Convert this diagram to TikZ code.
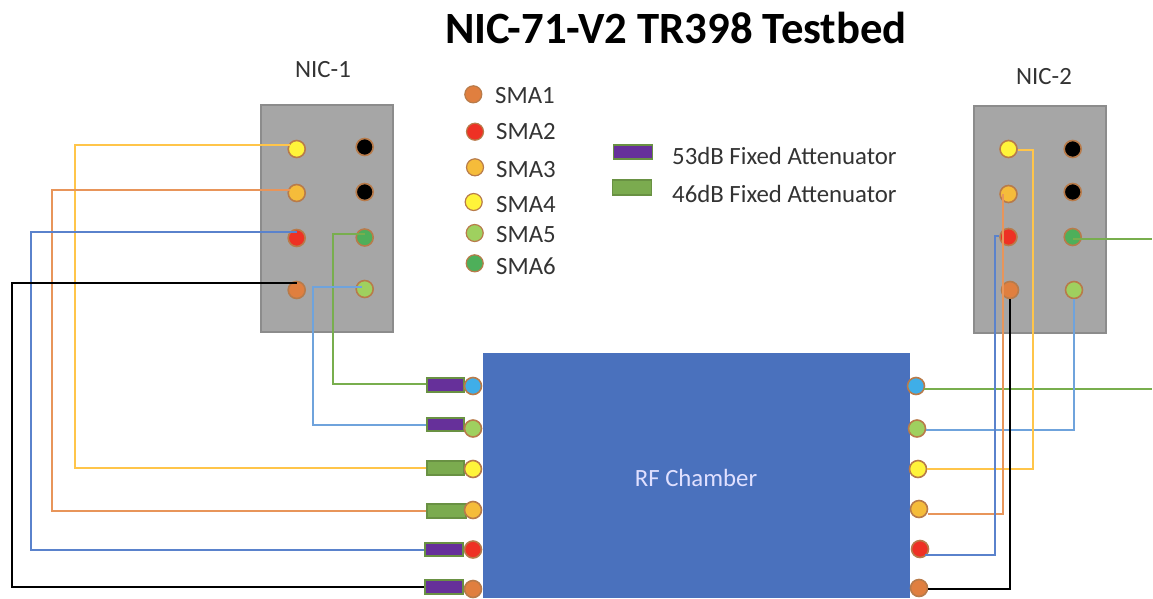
\documentclass[tikz,border=0pt]{standalone}
\usepackage{fontspec}
\setmainfont{Carlito}
\definecolor{cA}{HTML}{E07F3F}
\definecolor{cB}{HTML}{EE3124}
\definecolor{cC}{HTML}{F5BC3A}
\definecolor{cD}{HTML}{FFF43A}
\definecolor{cE}{HTML}{9FD05F}
\definecolor{cF}{HTML}{4EAF5A}
\definecolor{cS}{HTML}{3FAEE8}
\definecolor{rimc}{HTML}{B87B4A}
\definecolor{wyellow}{HTML}{FFC54A}
\definecolor{worange}{HTML}{E8955A}
\definecolor{wblue}{HTML}{5A82CC}
\definecolor{wlblue}{HTML}{6FA3DC}
\definecolor{wgreen}{HTML}{78AE4E}
\definecolor{attp}{HTML}{66309A}
\definecolor{attg}{HTML}{7BAB4F}
\definecolor{chamberc}{HTML}{4A71BD}
\tikzset{
  x=1pt,y=-1pt,
  port/.style={circle,draw=rimc,line width=1.6pt,minimum size=17pt,inner sep=0pt,fill=#1},
  lport/.style={circle,draw=rimc,line width=1.2pt,minimum size=17pt,inner sep=0pt,fill=#1},
  nicbox/.style={rectangle,draw=black!45,line width=1.2pt,fill=black!35,minimum width=132pt,minimum height=227pt,inner sep=0pt},
  atten/.style={rectangle,draw=attg!85!black,line width=1.2pt,fill=#1,inner sep=0pt},
  wire/.style={draw=#1,line width=2pt},
  label/.style={font=\fontsize{24.8}{28}\selectfont,text=black!80,anchor=west,inner sep=0pt},
  caption/.style={font=\fontsize{24.8}{28}\selectfont,text=black!80,inner sep=0pt},
}
\begin{document}
\begin{tikzpicture}
\useasboundingbox (0,0) rectangle (1153,598);
\node[font=\fontsize{44.7}{48}\bfseries,inner sep=0pt] (title) at (676,28) {NIC-71-V2 TR398 Testbed};
\node[nicbox] (nicA) at (327,218.5) {};
\node[nicbox] (nicB) at (1040,219.5) {};
\node[caption] (nicAl) at (323,70) {NIC-1};
\node[caption] (nicBl) at (1044,77) {NIC-2};
\node[inner sep=0pt] (edgeA) at (1153,239) {};
\node[inner sep=0pt] (edgeB) at (1153,389) {};
% chamber
\fill[chamberc] (483,353) rectangle (910,598);
\node[caption,text=white!88!blue] (rf) at (696,478) {RF Chamber};
% NIC-1 ports
\node[port=cD] (a1) at (296.7,149) {};
\node[port=cC] (a2) at (296.7,193) {};
\node[port=cB] (a3) at (296.7,238) {};
\node[port=cA] (a4) at (296.7,290) {};
\node[port=black] (a5) at (364.7,147) {};
\node[port=black] (a6) at (364.7,192) {};
\node[port=cF] (a7) at (364.7,237.5) {};
\node[port=cE] (a8) at (364.7,289) {};
% NIC-2 ports
\node[port=cD] (b1) at (1008.5,149) {};
\node[port=cC] (b2) at (1008.5,194) {};
\node[port=cB] (b3) at (1008.5,237) {};
\node[port=cA] (b4) at (1010,290) {};
\node[port=black] (b5) at (1072.7,149) {};
\node[port=black] (b6) at (1072.7,192) {};
\node[port=cF] (b7) at (1072.7,237) {};
\node[port=cE] (b8) at (1074,290) {};
% chamber right ports
\node[port=cS] (r1) at (916,386) {};
\node[port=cE] (r2) at (917,428.5) {};
\node[port=cD] (r3) at (918,469) {};
\node[port=cC] (r4) at (919,509) {};
\node[port=cB] (r5) at (920,549) {};
\node[port=cA] (r6) at (919,588) {};
% bends
\coordinate (k1) at (75,300);
\coordinate (k2) at (52,300);
\coordinate (k3) at (31,300);
\coordinate (k4) at (12,300);
\coordinate (k5) at (332.7,300);
\coordinate (k6) at (313.3,340);
\coordinate (m1) at (1074,360);
\coordinate (m2) at (1032.7,300);
\coordinate (m3) at (1003,360);
\coordinate (m4) at (995,400);
\coordinate (m5) at (1010,450);
% wires, left side
\node[atten=attp,minimum width=37pt,minimum height=14pt] (t1) at (445.5,385) {};
\node[atten=attp,minimum width=37pt,minimum height=13pt] (t2) at (445.5,424.5) {};
\node[atten=attg,minimum width=37pt,minimum height=14pt] (t3) at (445.5,468) {};
\node[atten=attg,minimum width=39pt,minimum height=14pt] (t4) at (446.5,511) {};
\node[atten=attp,minimum width=38pt,minimum height=13pt] (t5) at (444,549.5) {};
\node[atten=attp,minimum width=38pt,minimum height=14pt] (t6) at (444,587) {};
\draw[wire=wyellow] ([xshift=-7pt,yshift=4pt]a1.center) -| (k1) |- (t3.west);
\draw[wire=worange] ([xshift=-7pt,yshift=3.5pt]a2.center) -| (k2) |- (t4.west);
\draw[wire=wblue] ([yshift=6pt]a3.center) -| (k3) |- (t5.west);
\draw[wire=black] ([yshift=7.3pt]a4.center) -| (k4) |- (t6.west);
\draw[wire=wgreen] ([yshift=3.5pt]a7.center) -| (k5) |- ([yshift=1pt]t1.west);
\draw[wire=wlblue] ([xshift=-3pt,yshift=2.3pt]a8.center) -| (k6) |- (t2.west);
% wires, right side
\draw[wire=wgreen] ([xshift=8pt,yshift=-3pt]r1.center) -- (edgeB);
\draw[wire=wgreen] ([yshift=-2pt]b7.center) -- (edgeA);
\draw[wire=wlblue] ([yshift=-1.5pt]r2.east) -| (m1) -- (b8.south);
\draw[wire=wyellow] (r3.east) -| (m2) |- ([yshift=-1pt]b1.east);
\draw[wire=worange,line width=2.4pt] ([yshift=-5pt]r4.east) -| (m3) -- ([xshift=-5.5pt]b2.center);
\draw[wire=wblue] ([xshift=5pt,yshift=-6pt]r5.center) -| (m4) |- ([yshift=1pt]b3.west);
\draw[wire=black,line width=2.4pt] ([yshift=-1pt]r6.east) -| (m5) -- (b4.south);
% chamber left ports
\node[port=cS] (l1) at (473,386) {};
\node[port=cE] (l2) at (473,428.5) {};
\node[port=cD] (l3) at (473,469) {};
\node[port=cC] (l4) at (473,510) {};
\node[port=cB] (l5) at (473,549.5) {};
\node[port=cA] (l6) at (473,589) {};
% legend
\node[lport=cA] (s1) at (473.3,94.3) {};
\node[lport=cB] (s2) at (475,131.7) {};
\node[lport=cC] (s3) at (475,167.3) {};
\node[lport=cD] (s4) at (473.7,202) {};
\node[lport=cE] (s5) at (474.7,233) {};
\node[lport=cF] (s6) at (474.7,263.3) {};
\node[label] (sl1) at (495,96) {SMA1};
\node[label] (sl2) at (496,132) {SMA2};
\node[label] (sl3) at (496,170) {SMA3};
\node[label] (sl4) at (496,205) {SMA4};
\node[label] (sl5) at (496,234.5) {SMA5};
\node[label] (sl6) at (496,266.5) {SMA6};
\node[atten=attp,minimum width=39pt,minimum height=14pt] (lg1) at (633,152) {};
\node[atten=attg,minimum width=39pt,minimum height=15pt] (lg2) at (632,187.5) {};
\node[label] (ll1) at (672,156) {53dB Fixed Attenuator};
\node[label] (ll2) at (672,194) {46dB Fixed Attenuator};
\end{tikzpicture}
\end{document}
